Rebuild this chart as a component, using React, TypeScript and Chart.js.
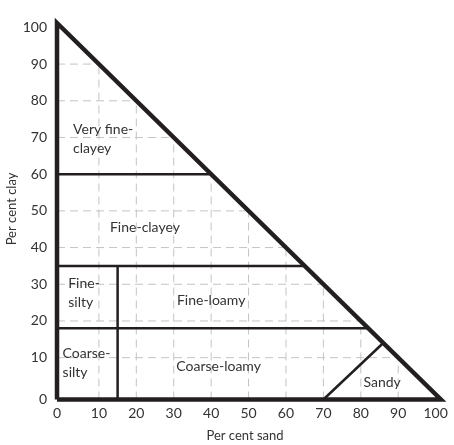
import React, { useEffect, useRef } from "react";
import { Chart, registerables } from "chart.js";

Chart.register(...registerables);

// Axis ticks
const sandTicks = [0, 10, 20, 30, 40, 50, 60, 70, 80, 90, 100];
const clayTicks = [0, 10, 20, 30, 40, 50, 60, 70, 80, 90, 100];
// Interior grid values (clipped to the triangle)
const gridValues = [10, 20, 30, 40, 50, 60, 70, 80, 90];

// Outer triangle (sand, clay), drawn just outside the 0 lines
const triangleSand = [-1.2, 101.4, -1.2, -1.2];
const triangleClay = [-1.4, -1.4, 101.2, -1.4];

// Class boundaries
const clayBoundaries = [60, 35, 18];
const siltSandSplit = 15; // per cent sand, up to 35 % clay
const siltSplitTop = 35;
const sandyLineSand = [70, 86];
const sandyLineClay = [-1.4, 14];

// Region labels
const regionNames = ["Very fine-\nclayey", "Fine-clayey", "Fine-\nsilty", "Fine-loamy", "Coarse-\nsilty", "Coarse-loamy", "Sandy"];
const regionSand = [3.1, 22.3, 1.8, 40, 0.3, 42, 85.7];
const regionClay = [69.6, 45.6, 27.7, 25.6, 8.45, 7.5, 3.3];
const regionAlign = ["left", "center", "left", "center", "left", "center", "center"];

const LINE = "#231f20";
const TEXT = "#333333";
const GRID = "#c4c4c4";
const FONT = "Lato, 'Open Sans', sans-serif";

const X_MIN = -1.2;
const Y_MIN = -1.4;

export default function App() {
  const ref = useRef<HTMLCanvasElement>(null);

  useEffect(() => {
    if (!ref.current) return;

    const datasets: any[] = [];
    const seg = (pts: { x: number; y: number }[], width: number, color: string, dash: number[] = []) => ({
      data: pts,
      showLine: true,
      borderColor: color,
      backgroundColor: color,
      borderWidth: width,
      borderDash: dash,
      borderJoinStyle: "miter",
      borderCapStyle: "butt",
      pointRadius: 0,
      pointHoverRadius: 0,
      tension: 0,
      clip: false,
      fill: false,
    });

    // Outer triangle
    datasets.push(
      seg(
        triangleSand.map((s, i) => ({ x: s, y: triangleClay[i] })),
        4.5,
        LINE
      )
    );
    // Horizontal boundaries
    clayBoundaries.forEach((c) => {
      datasets.push(seg([{ x: triangleSand[0], y: c }, { x: 100 - c, y: c }], 2.5, LINE));
    });
    // Vertical silt split
    datasets.push(seg([{ x: siltSandSplit, y: triangleClay[0] }, { x: siltSandSplit, y: siltSplitTop }], 2.5, LINE));
    // Sandy line
    datasets.push(
      seg(
        sandyLineSand.map((s, i) => ({ x: s, y: sandyLineClay[i] })),
        2.5,
        LINE
      )
    );
    // Grid lines (dashed), clipped to the triangle
    gridValues.forEach((v) => {
      datasets.push(seg([{ x: triangleSand[0], y: v }, { x: 100 - v, y: v }], 1, GRID, [8, 5]));
      datasets.push(seg([{ x: v, y: triangleClay[0] }, { x: v, y: 100 - v }], 1, GRID, [8, 5]));
    });

    const labelPlugin = {
      id: "regionLabels",
      afterDatasetsDraw(chart: any) {
        const { ctx, scales } = chart;
        ctx.save();
        ctx.fillStyle = TEXT;
        ctx.font = `14px ${FONT}`;
        ctx.textBaseline = "middle";
        const lh = 19;
        regionNames.forEach((name, i) => {
          const lines = name.split("\n");
          const px = scales.x.getPixelForValue(regionSand[i]);
          const py = scales.y.getPixelForValue(regionClay[i]);
          ctx.textAlign = regionAlign[i] as CanvasTextAlign;
          const start = py - ((lines.length - 1) * lh) / 2;
          lines.forEach((ln, j) => ctx.fillText(ln, px, start + j * lh));
        });
        // x-axis title
        ctx.font = `13px ${FONT}`;
        ctx.textAlign = "center";
        ctx.fillText("Per cent sand", 245, 436);
        ctx.restore();
      },
    };

    const chart = new Chart(ref.current, {
      type: "scatter",
      data: { datasets },
      options: {
        animation: false,
        responsive: false,
        events: [],
        layout: { padding: { top: 10, right: 8, bottom: 0, left: 0 } },
        plugins: { legend: { display: false }, tooltip: { enabled: false } },
        scales: {
          x: {
            type: "linear",
            min: X_MIN,
            max: 102.5,
            afterBuildTicks: (s: any) => {
              // the 0 label sits on the thick axis line
              s.ticks = sandTicks.map((v) => ({ value: v === 0 ? X_MIN : v }));
            },
            afterFit: (s: any) => {
              s.height = 45.5;
            },
            grid: { display: false, drawTicks: false },
            border: { display: false },
            ticks: {
              color: TEXT,
              font: { family: FONT, size: 14 },
              padding: 6,
              maxRotation: 0,
              autoSkip: false,
              callback: (v: any) => String(Math.max(0, Math.round(Number(v)))),
            },
          },
          y: {
            type: "linear",
            min: Y_MIN,
            max: 102.45,
            afterBuildTicks: (s: any) => {
              s.ticks = clayTicks.map((v) => ({ value: v === 0 ? Y_MIN : v }));
            },
            afterFit: (s: any) => {
              s.width = 57;
            },
            grid: { display: false, drawTicks: false },
            border: { display: false },
            ticks: {
              color: TEXT,
              font: { family: FONT, size: 14 },
              padding: 10,
              autoSkip: false,
              callback: (v: any) => String(Math.max(0, Math.round(Number(v)))),
            },
            title: { display: true, text: "Per cent clay", color: TEXT, font: { family: FONT, size: 13 }, padding: { top: 4, bottom: 4 } },
          },
        },
      },
      plugins: [labelPlugin],
    });

    return () => chart.destroy();
  }, []);

  return (
    <div style={{ position: "absolute", left: 0, top: 0, width: 454, height: 445, background: "#fff" }}>
      <canvas ref={ref} width={454} height={445} style={{ display: "block" }} />
    </div>
  );
}
